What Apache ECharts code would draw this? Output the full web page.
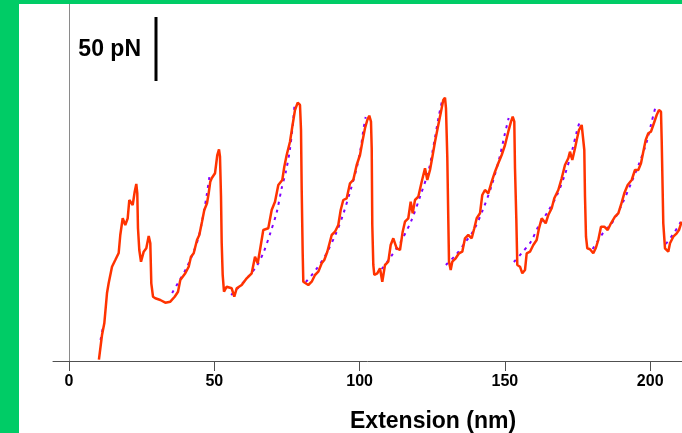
<!DOCTYPE html>
<html>
<head>
<meta charset="utf-8">
<script src="https://cdn.jsdelivr.net/npm/echarts@6/dist/echarts.min.js"></script>
<style>
  html, body { margin: 0; padding: 0; width: 682px; height: 433px; overflow: hidden; background: #00cc66; }
  #chart { position: absolute; left: 19px; top: 4px; width: 663px; height: 429px; background: #ffffff; }
</style>
</head>
<body>
<div id="chart"></div>
<script>
// Force-extension trace: extension (nm), force (pN)
const traceExt = [10.3, 11.36, 12.15, 13.08, 13.66, 14.80, 15.93, 17.10, 17.65, 18.48, 19.37, 20.20, 20.75, 21.92, 22.61, 23.16, 23.50, 23.74, 24.19, 24.78, 25.71, 26.60, 27.43, 27.98, 28.32, 28.91, 29.70, 31.42, 33.14, 34.86, 36.37, 37.51, 38.30, 40.02, 41.19, 41.98, 42.91, 44.05, 44.84, 45.77, 46.56, 47.49, 48.07, 48.62, 49.11, 50.24, 51.03, 51.62, 51.96, 52.31, 52.55, 52.89, 53.34, 54.27, 55.99, 56.88, 57.71, 59.43, 61.15, 62.87, 64.01, 64.94, 65.73, 66.86, 68.58, 69.75, 70.89, 72.03, 73.40, 74.09, 74.91, 76.05, 76.84, 77.77, 78.70, 79.49, 79.84, 80.08, 80.42, 80.63, 82.35, 83.52, 84.65, 85.79, 86.96, 87.85, 88.89, 90.40, 91.54, 92.67, 93.50, 94.39, 95.56, 96.70, 97.83, 99.00, 100.14, 101.07, 101.86, 102.65, 103.34, 103.92, 104.17, 104.37, 104.72, 105.06, 106.09, 107.02, 107.81, 108.74, 109.88, 110.70, 111.60, 112.77, 113.90, 114.83, 115.62, 116.76, 117.59, 118.27, 119.07, 120.20, 121.37, 122.51, 123.30, 124.23, 125.16, 125.95, 127.08, 128.01, 128.80, 129.39, 129.73, 130.18, 130.52, 130.77, 131.35, 131.90, 133.07, 134.21, 135.34, 136.27, 137.41, 138.58, 139.47, 140.30, 141.43, 142.22, 143.15, 144.29, 145.46, 146.60, 147.73, 148.90, 150.04, 151.17, 152.10, 152.69, 153.24, 153.48, 153.93, 154.27, 155.20, 155.99, 156.92, 157.50, 158.64, 159.78, 160.94, 161.74, 162.67, 164.04, 164.94, 166.11, 167.00, 168.38, 169.55, 170.68, 171.82, 172.40, 173.20, 174.13, 174.71, 175.50, 176.43, 176.98, 177.33, 177.57, 177.91, 178.36, 179.29, 180.42, 181.25, 182.14, 183.07, 184.21, 185.38, 186.51, 187.89, 189.03, 189.95, 191.09, 192.26, 193.64, 194.77, 195.91, 196.84, 197.63, 198.46, 199.35, 200.28, 201.07, 202.24, 203.03, 203.72, 203.96, 204.51, 205.10, 206.23, 206.82, 207.95, 209.12, 209.91, 210.84];
const traceForce = [1.0, 20.31, 29.45, 53.13, 60.94, 73.67, 78.91, 84.38, 98.44, 111.48, 106.25, 111.48, 125.78, 121.88, 132.27, 138.28, 131.02, 103.67, 86.72, 77.58, 85.39, 88.05, 97.66, 91.95, 60.70, 50.23, 48.98, 47.66, 45.55, 46.33, 50.23, 54.14, 63.28, 68.52, 73.67, 81.48, 84.14, 94.53, 98.44, 108.83, 117.97, 123.20, 131.02, 140.08, 142.73, 146.64, 160.94, 165.39, 159.61, 128.36, 91.95, 67.19, 54.14, 58.05, 56.80, 50.23, 56.80, 59.38, 64.61, 68.52, 81.48, 76.33, 86.72, 102.34, 103.67, 117.97, 124.45, 137.50, 141.41, 151.80, 160.94, 171.33, 183.05, 196.09, 201.80, 200.00, 180.47, 133.59, 84.14, 61.95, 59.38, 61.95, 67.19, 69.77, 76.33, 78.91, 85.39, 98.44, 101.02, 106.25, 117.97, 125.78, 127.11, 138.83, 141.41, 153.13, 160.94, 172.66, 181.80, 188.28, 191.64, 186.95, 166.17, 106.25, 75.00, 67.19, 68.52, 72.42, 61.95, 75.00, 77.58, 90.63, 95.86, 88.05, 86.72, 101.02, 108.83, 111.48, 124.45, 115.39, 125.78, 128.36, 140.08, 150.55, 141.41, 149.22, 160.94, 171.33, 184.38, 194.77, 203.91, 205.70, 197.42, 159.61, 111.48, 77.58, 71.09, 77.58, 80.23, 84.14, 85.39, 95.86, 98.44, 95.86, 103.67, 111.48, 115.39, 129.69, 133.59, 131.02, 140.08, 147.89, 154.45, 160.94, 168.75, 179.14, 186.95, 190.86, 186.95, 150.55, 111.48, 75.00, 73.67, 68.52, 71.09, 84.14, 85.39, 90.63, 94.53, 103.67, 111.48, 107.58, 114.06, 119.30, 127.11, 133.59, 142.73, 153.13, 158.36, 163.52, 157.03, 166.17, 172.66, 180.47, 184.38, 183.05, 164.84, 128.36, 97.11, 88.05, 87.27, 84.14, 88.05, 94.53, 104.92, 104.92, 102.34, 107.58, 112.73, 115.39, 121.88, 131.02, 137.50, 141.41, 149.22, 149.22, 154.45, 163.52, 172.66, 177.89, 179.14, 184.38, 192.19, 196.09, 194.77, 172.66, 107.58, 88.05, 85.39, 91.95, 97.11, 99.77, 102.34, 108.83];

// Worm-like-chain fits to each unfolding rise: [extension nm, force pN]
const fit0 = [[10.85, 16.41], [11.85, 28.13]];
const fit1 = [[35.5, 53.13], [37.9, 62.50], [40.6, 73.44], [43.0, 85.94], [44.7, 97.66], [46.4, 116.41], [47.4, 129.69], [48.3, 143.75]];
const fit2 = [[55.8, 51.56], [58.5, 57.81], [61.9, 66.41], [64.6, 74.22], [67.0, 85.16], [69.4, 100.78], [71.5, 116.41], [73.2, 135.16], [74.6, 147.66], [76.0, 164.84], [77.0, 184.38], [77.7, 202.34]];
const fit3 = [[81.5, 61.72], [84.9, 71.09], [88.3, 82.81], [91.8, 99.22], [94.5, 115.63], [96.9, 133.59], [99.0, 150.78], [100.4, 166.41], [101.4, 182.03], [102.1, 190.63]];
const fit4 = [[107.6, 71.88], [110.7, 81.25], [114.5, 94.53], [117.9, 110.16], [121.0, 129.69], [123.8, 149.22], [125.8, 172.66], [127.2, 190.63], [128.6, 205.47]];
const fit5 = [[129.7, 75.00], [133.1, 82.81], [136.2, 92.19], [139.3, 102.34], [142.4, 117.97], [145.5, 137.50], [148.2, 159.38], [149.9, 176.56], [151.3, 189.84]];
const fit6 = [[153.1, 77.34], [155.8, 84.38], [158.9, 92.97], [161.6, 105.47], [164.7, 116.41], [167.8, 128.91], [170.6, 145.31], [173.0, 163.28], [174.7, 178.91], [175.7, 186.72]];
const fit7 = [[180.2, 87.50], [184.0, 100.78], [187.1, 108.59], [190.2, 121.88], [193.6, 139.84], [196.4, 155.47], [198.8, 171.09], [200.5, 186.72], [201.9, 199.22]];
const fit8 = [[205.4, 91.41], [208.4, 100.78], [210.5, 108.59]];

// Axis tick labels and the force scale bar
const xTicks = [0, 50, 100, 150, 200];
const scaleBarForce = 50;      // pN
const scaleBarExt = 29.94;     // nm, horizontal position of the bar
const scaleBarBase = 218.75;   // pN, lower end of the bar

const chart = echarts.init(document.getElementById('chart'), null, { renderer: 'canvas' });

const fitSeries = [fit0, fit1, fit2, fit3, fit4, fit5, fit6, fit7, fit8].map(function (d) {
  return {
    type: 'line', data: d, smooth: 0.3, symbol: 'none', z: 2, silent: true,
    lineStyle: { color: '#8000ff', width: 2, type: [3, 5] }
  };
});

chart.setOption({
  animation: false,
  backgroundColor: '#ffffff',
  grid: { left: 34, right: 0, top: 0, bottom: 72, containLabel: false },
  xAxis: {
    type: 'value', min: -5.506, max: 210.95,
    axisLine: { show: true, lineStyle: { color: '#505050', width: 1 } },
    axisTick: { show: true, length: 10, customValues: xTicks, lineStyle: { color: '#505050', width: 1 } },
    axisLabel: {
      show: true, customValues: xTicks, margin: 13,
      color: '#000000', fontFamily: 'Liberation Sans, Arial', fontWeight: 'bold', fontSize: 16
    },
    splitLine: { show: false }
  },
  yAxis: {
    type: 'value', min: 0, max: 278.9,
    axisLine: { show: true, lineStyle: { color: '#8a8a8a', width: 1 } },
    axisTick: { show: false }, axisLabel: { show: false }, splitLine: { show: false }
  },
  series: fitSeries.concat([
    {
      type: 'line', symbol: 'none', z: 3, silent: true, clip: true,
      data: traceExt.map(function (x, i) { return [x, traceForce[i]]; }),
      lineStyle: { color: '#ff3300', width: 2.5 }
    },
    {
      type: 'line', symbol: 'none', z: 4, silent: true,
      data: [[scaleBarExt, scaleBarBase], [scaleBarExt, scaleBarBase + scaleBarForce]],
      lineStyle: { color: '#000000', width: 3, cap: 'butt' }
    }
  ])
});

// Scale bar caption, placed beside the bar through the axis scales
const barMid = chart.convertToPixel({ gridIndex: 0 }, [scaleBarExt, scaleBarBase + scaleBarForce / 2]);
chart.setOption({
  graphic: [
    {
      type: 'text', x: barMid[0] - 15, y: barMid[1] + 1,
      style: {
        text: scaleBarForce + ' pN', fill: '#000000', align: 'right', verticalAlign: 'middle',
        font: 'bold 23px "Liberation Sans", Arial'
      }
    },
    {
      type: 'text', left: 331, top: 406,
      style: { text: 'Extension (nm)', fill: '#000000', font: 'bold 23px "Liberation Sans", Arial' }
    }
  ]
});
</script>
</body>
</html>
